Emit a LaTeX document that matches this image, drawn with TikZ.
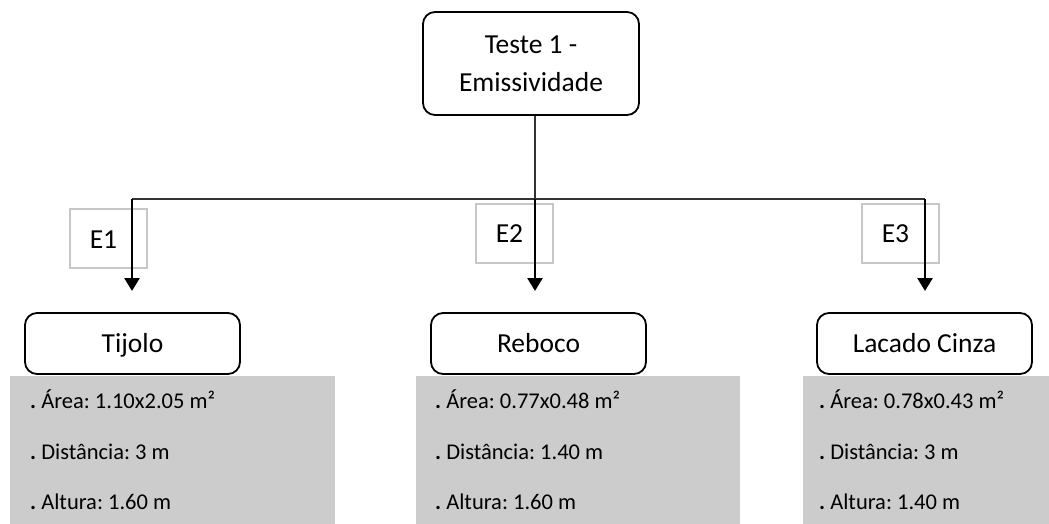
\documentclass[tikz,border=0pt]{standalone}
\usepackage{fontspec}
\setmainfont{Carlito}
\usetikzlibrary{arrows.meta}
\begin{document}
\frenchspacing
\begin{tikzpicture}[x=1pt,y=-1pt,
  rbox/.style={draw=black,line width=1.8pt,rounded corners=12pt,fill=white,inner sep=0pt,
    font=\fontsize{27.5}{38}\selectfont,align=center},
  mbox/.style={draw=black,line width=1.8pt,rounded corners=12pt,fill=white,inner sep=0pt,
    font=\fontsize{27.5}{33}\selectfont,text height=17.7pt,text depth=0pt,
    minimum width=215pt,minimum height=61pt},
  ebox/.style={draw=black!22,line width=1.6pt,inner sep=0pt,minimum width=77pt,minimum height=59pt},
  elabel/.style={font=\fontsize{27.5}{33}\selectfont,inner sep=0pt,text height=17.7pt,text depth=0pt},
  panel/.style={fill=black!20,draw=none},
  info/.style={anchor=base west,font=\fontsize{22.5}{27}\selectfont,inner sep=0pt},
  thinline/.style={draw=black!80,line width=1.4pt},
  arr/.style={draw=black,line width=2.6pt,-{Triangle[width=15pt,length=13pt]}}]
\useasboundingbox (0,0) rectangle (1049,524);

% top node
\node[rbox,minimum width=216pt,minimum height=103pt] (top) at (531,63.5) {Teste 1 -\\Emissividade};

% label boxes
\node[ebox] (e1box) at (108.5,238.5) {};
\node[ebox] (e2box) at (514.5,233.5) {};
\node[ebox] (e3box) at (900.5,233.5) {};
\node[elabel] (e1) at (103.5,240) {E1};
\node[elabel] (e2) at (509.5,234) {E2};
\node[elabel] (e3) at (895.5,234) {E3};

% connectors
\coordinate (hl) at (132,199);
\coordinate (hm) at (535,199);
\coordinate (hr) at (925,199);
\coordinate (t1) at (132,291);
\coordinate (t2) at (535,291);
\coordinate (t3) at (925,291);
\draw[thinline] (hl) -- (hr);
\draw[thinline] (top.south -| hm) -- (hm);
\draw[arr] (hl) -- (t1);
\draw[arr] (hm) -- (t2);
\draw[arr] (hr) -- (t3);

% material boxes
\node[mbox] (tijolo) at (132.5,343.5) {Tijolo};
\node[mbox] (reboco) at (538.5,343.5) {Reboco};
\node[mbox] (lacado) at (924.5,343.5) {Lacado Cinza};

% info panels
\fill[panel] (10,376) rectangle (335,524);
\fill[panel] (416,376) rectangle (740,524);
\fill[panel] (803,376) rectangle (1049,524);

\node[info] (a1) at (30,408) {{\bfseries .} Área: 1.10x2.05 m²};
\node[info] (d1) at (30,459) {{\bfseries .} Distância: 3 m};
\node[info] (h1) at (30,509) {{\bfseries .} Altura: 1.60 m};

\node[info] (a2) at (435,408) {{\bfseries .} Área: 0.77x0.48 m²};
\node[info] (d2) at (435,459) {{\bfseries .} Distância: 1.40 m};
\node[info] (h2) at (435,509) {{\bfseries .} Altura: 1.60 m};

\node[info] (a3) at (819,408) {{\bfseries .} Área: 0.78x0.43 m²};
\node[info] (d3) at (819,459) {{\bfseries .} Distância: 3 m};
\node[info] (h3) at (819,509) {{\bfseries .} Altura: 1.40 m};
\end{tikzpicture}
\end{document}
